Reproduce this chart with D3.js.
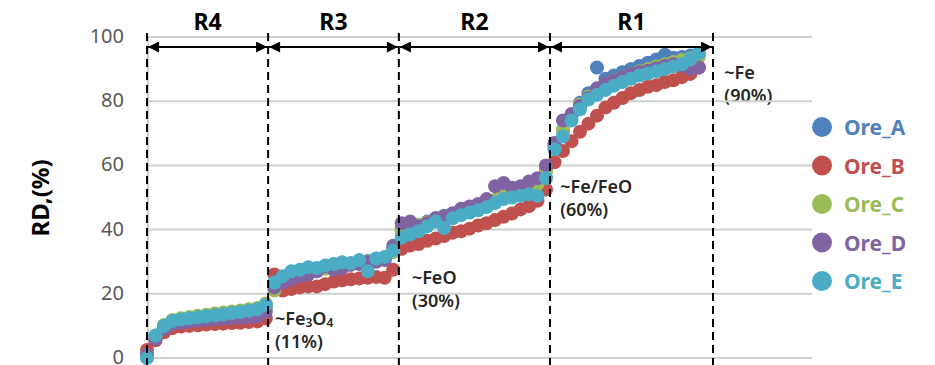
<!DOCTYPE html>
<html>
<head>
<meta charset="utf-8">
<script src="https://cdn.jsdelivr.net/npm/d3@7"></script>
<style>
  body { margin: 0; background: #fff; }
  svg { display: block; font-family: "Noto Sans", "Open Sans", sans-serif; }
</style>
</head>
<body>
<script>
// reduction time (relative units), shared by every ore
var time = [0, 1.5, 3, 4.5, 6, 7.5, 9, 10.5, 12, 13.5, 15, 16.5, 18, 19.5, 21,
  22.5, 24, 25.5, 27, 28.5, 30, 31.5, 33, 34.5, 36, 37.5, 39, 40.5, 42, 43.5,
  45, 46.5, 48, 49.5, 51, 52.5, 54, 55.5, 57, 58.5, 60, 61.5, 63, 64.5, 66, 67.5, 69, 70.5,
  72, 73.5, 75, 76.5, 78, 79.5, 81, 82.5, 84, 85.5, 87, 88.5, 90, 91.5, 93, 94.5, 96, 97.5]

var oreA = [0.5, 6.5, 9.5, 11, 11.5, 11.8, 12.1, 12.4, 12.7, 13, 13.3, 13.6, 14, 14.4, 16,
  23, 24.8, 26, 26.5, 27, 27.6, 28, 28.5, 29, 29.5, 29.8, 30.2, 30.6, 31, 34,
  40.5, 41, 41.5, 42.5, 43.5, 44.3, 45, 45.8, 46.5, 47.2, 48, 49, 50.3, 51.2, 52, 53, 54, 59,
  66, 71, 75.5, 79.5, 82.5, 90.5, 87, 88, 89, 90, 91, 92, 93, 94.5, 93.5, 93.8, 94.2, 94.8]

var oreB = [2.5, 5.5, 8, 9.3, 9.8, 10, 10.2, 10.4, 10.6, 10.7, 10.9, 11, 11.2, 11.4, 12.3,
  26, 21, 21.5, 22, 22.3, 22.3, 23, 23.8, 24.2, 24.5, 24.8, 25, 25.2, 25, 27.5,
  34, 35, 35.5, 36.5, 37.2, 38, 39, 39.5, 40.3, 41.3, 42, 43, 44, 45, 46.3, 47.3, 49, 52.5,
  61, 64.5, 67.5, 70.5, 73, 75.5, 78, 79.5, 81, 82.5, 83.5, 84.5, 85, 86, 86.5, 87.5, 88.5, 90.5]

var oreC = [1, 7, 10.3, 11.8, 12.4, 12.8, 13.2, 13.5, 13.9, 14.2, 14.5, 14.8, 15.2, 15.6, 17,
  21, 24, 25.5, 26.3, 26.8, 27.3, 27.8, 28.3, 28.7, 29.2, 29.6, 30, 30.3, 30.8, 33,
  39.5, 40.5, 41.5, 42.3, 43.2, 44, 44.8, 45.5, 46.3, 47, 48, 49.2, 50.5, 51.5, 52.3, 53, 54.2, 58,
  65.5, 71, 75.5, 79, 81.5, 83.5, 85, 86.5, 87.5, 88.5, 89.3, 90, 90.8, 91.5, 92.2, 92.8, 93.3, 93.8]

var oreD = [1, 6, 9, 10.5, 11, 11.3, 11.6, 11.8, 12, 12.2, 12.4, 12.5, 12.7, 13, 14.5,
  22, 23.5, 24.5, 25.5, 26, 27, 28.5, 27.5, 28, 29, 29.3, 29.8, 30, 30.5, 35,
  42, 42.5, 41, 42, 43.5, 44, 45, 46.5, 47.2, 48, 49.5, 53.5, 54.5, 53, 53.5, 55, 56, 60,
  67, 74, 76, 78.5, 81, 84, 85.5, 86.5, 87.5, 88.5, 89, 89.5, 90.3, 91, 91.5, 91.3, 90, 90.5]

var oreE = [0, 7, 10, 11.5, 12, 12.4, 12.7, 13, 13.3, 13.6, 14, 14.3, 14.7, 15.2, 16.5,
  23.5, 25.5, 27, 27.5, 28.3, 28, 28.8, 29.3, 29.8, 29.5, 30.5, 27, 31, 31.5, 33.5,
  37.5, 38.5, 39.5, 41, 42.5, 40.5, 43.5, 44.5, 45.3, 46, 47, 48.3, 49.5, 50, 50.5, 51, 50.5, 56,
  65, 69, 74, 77.5, 80.5, 82, 83.5, 84.8, 86, 87, 88, 88.6, 89.3, 90, 90.8, 91.5, 93, 95]

var oreNames = ["Ore_A", "Ore_B", "Ore_C", "Ore_D", "Ore_E"]
var oreColors = ["#4f81bd", "#c0504d", "#9bbb59", "#8064a2", "#4bacc6"]
var yTicks = [0, 20, 40, 60, 80, 100]

// region boundaries on the time axis and their labels
var bounds = [0, 21.4, 44.5, 71.2, 100]
var regions = ["R4", "R3", "R2", "R1"]

var notes = [
  { t: 22.6, v: 10.2, l1: "~Fe", sub: "3", mid: "O", sub2: "4", l2: "(11%)" },
  { t: 46.8, v: 23.0, l1: "~FeO", l2: "(30%)" },
  { t: 73.0, v: 51.5, l1: "~Fe/FeO", l2: "(60%)" },
  { t: 102.0, v: 87.0, l1: "~Fe", l2: "(90%)" }
]

var series = [oreA, oreB, oreC, oreD, oreE]

var width = 935, height = 365
var svg = d3.select("body").append("svg")
  .attr("width", width)
  .attr("height", height)

var x = d3.scaleLinear().domain([0, 100]).range([147, 713])
var y = d3.scaleLinear().domain([0, 100]).range([358, 37])

// annotations (drawn under the grid, like the original)
notes.forEach(function (n) {
  var t1 = svg.append("text")
    .attr("x", x(n.t))
    .attr("y", y(n.v))
    .attr("font-size", 18)
    .attr("font-weight", 600)
    .attr("fill", "#262626")
  t1.append("tspan").text(n.l1)
  if (n.sub) {
    t1.append("tspan").attr("font-size", 12).attr("dy", 2).text(n.sub)
    t1.append("tspan").attr("dy", -2).text(n.mid)
    t1.append("tspan").attr("font-size", 12).attr("dy", 2).text(n.sub2)
  }
  svg.append("text")
    .attr("x", x(n.t))
    .attr("y", y(n.v) + 23)
    .attr("font-size", 18)
    .attr("font-weight", 600)
    .attr("fill", "#262626")
    .text(n.l2)
})

// gridlines
svg.selectAll("line.grid")
  .data(yTicks)
  .enter()
  .append("line")
  .attr("class", "grid")
  .attr("x1", 147)
  .attr("x2", 812)
  .attr("y1", function (d) { return y(d); })
  .attr("y2", function (d) { return y(d); })
  .attr("stroke", "#d0d0d0")
  .attr("stroke-width", 2)

svg.append("line")
  .attr("x1", 148).attr("x2", 148)
  .attr("y1", y(100)).attr("y2", y(0))
  .attr("stroke", "#bfbfbf")
  .attr("stroke-width", 1.5)

// y axis labels
var yAxis = d3.axisLeft(y).tickValues(yTicks).tickSize(0).tickPadding(0)
var gy = svg.append("g").attr("transform", "translate(124,-1)").call(yAxis)
gy.select(".domain").remove()
gy.selectAll("text")
  .attr("font-size", 20)
  .attr("font-family", "Noto Sans, sans-serif")
  .attr("fill", "#595959")

svg.append("text")
  .attr("transform", "translate(49,198) rotate(-90)")
  .attr("text-anchor", "middle")
  .attr("font-size", 24)
  .attr("font-weight", "bold")
  .attr("fill", "#000")
  .text("RD,(%)")

// points
series.forEach(function (vals, k) {
  svg.append("g")
    .selectAll("circle")
    .data(vals)
    .enter()
    .append("circle")
    .attr("cx", function (d, i) { return x(time[i]); })
    .attr("cy", function (d) { return y(d); })
    .attr("r", 7)
    .attr("fill", oreColors[k])
})

// region dashed lines
svg.selectAll("line.bound")
  .data(bounds)
  .enter()
  .append("line")
  .attr("class", "bound")
  .attr("x1", function (d) { return x(d); })
  .attr("x2", function (d) { return x(d); })
  .attr("y1", 33)
  .attr("y2", 365)
  .attr("stroke", "#000")
  .attr("stroke-width", 2)
  .attr("stroke-dasharray", "8,5")

// double arrows
var defs = svg.append("defs")
defs.append("marker")
  .attr("id", "head")
  .attr("viewBox", "0 0 10 10")
  .attr("refX", 10).attr("refY", 5)
  .attr("markerWidth", 7.5).attr("markerHeight", 5.5)
  .attr("markerUnits", "strokeWidth")
  .attr("orient", "auto-start-reverse")
  .append("path")
  .attr("d", "M0,0 L10,5 L0,10 Z")
  .attr("fill", "#000")

regions.forEach(function (r, i) {
  svg.append("line")
    .attr("x1", x(bounds[i]) + 1)
    .attr("x2", x(bounds[i + 1]) - 1)
    .attr("y1", 47).attr("y2", 47)
    .attr("stroke", "#000")
    .attr("stroke-width", 2)
    .attr("marker-start", "url(#head)")
    .attr("marker-end", "url(#head)")
  svg.append("text")
    .attr("x", (x(bounds[i]) + x(bounds[i + 1])) / 2)
    .attr("y", 30)
    .attr("text-anchor", "middle")
    .attr("font-size", 23)
    .attr("font-weight", "bold")
    .attr("fill", "#000")
    .text(r)
})

// legend
var legend = svg.append("g")
oreNames.forEach(function (name, i) {
  var ly = 127 + i * 38.5
  legend.append("circle")
    .attr("cx", 822).attr("cy", ly).attr("r", 10)
    .attr("fill", oreColors[i])
  legend.append("text")
    .attr("x", 844).attr("y", ly + 8)
    .attr("font-size", 21)
    .attr("font-weight", "bold")
    .attr("fill", oreColors[i])
    .text(name)
})
</script>
</body>
</html>
